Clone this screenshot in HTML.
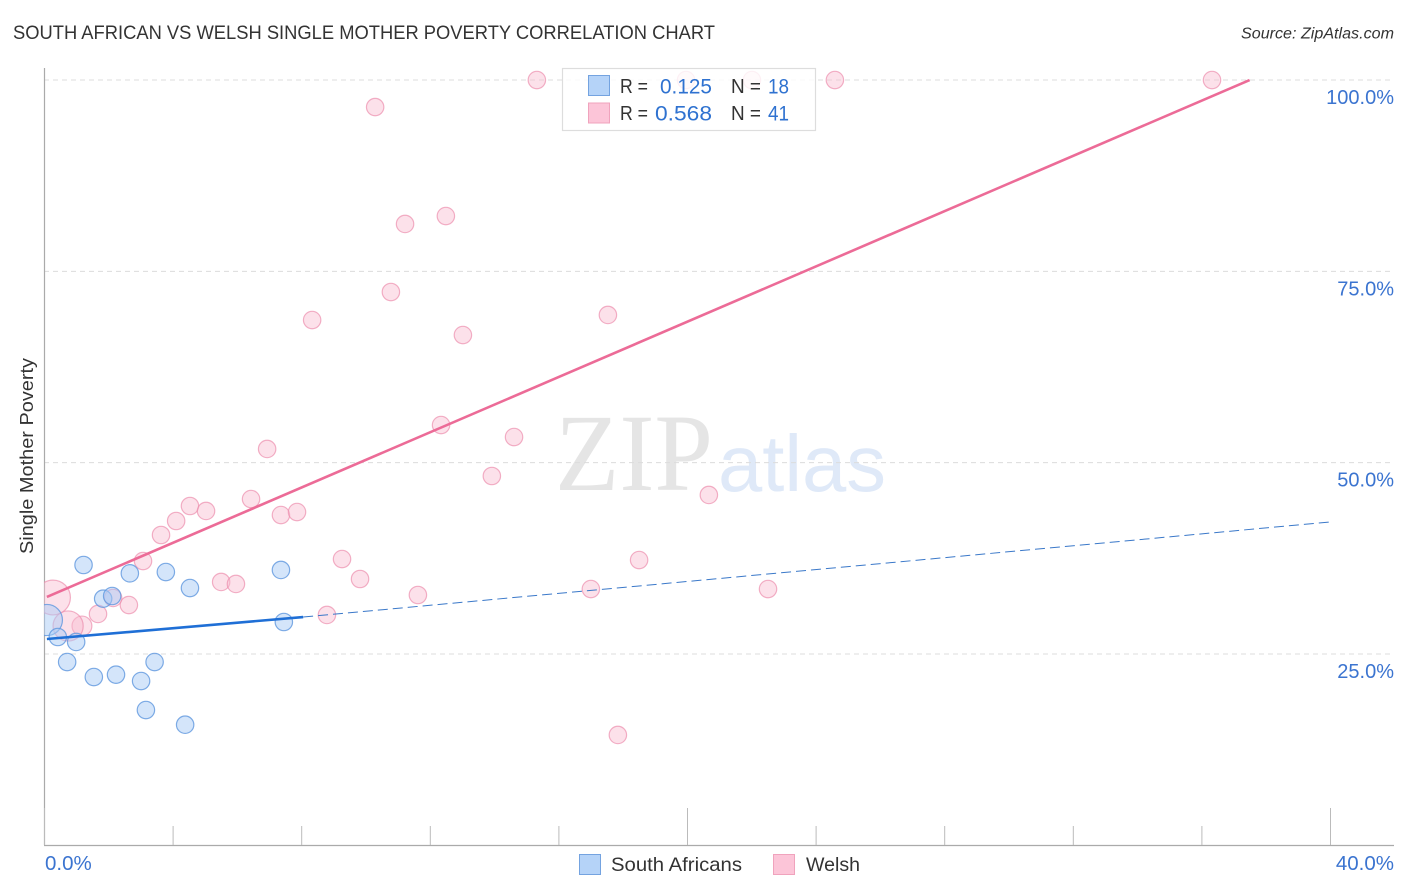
<!DOCTYPE html>
<html>
<head>
<meta charset="utf-8">
<title>South African vs Welsh Single Mother Poverty Correlation Chart</title>
<style>
html,body{margin:0;padding:0;background:#fff;}
svg{display:block;font-family:"Liberation Sans",sans-serif;}
</style>
</head>
<body>
<svg id="chart" width="1406" height="892" viewBox="0 0 1406 892" xmlns="http://www.w3.org/2000/svg">
  <defs><clipPath id="plot-clip"><rect x="44" y="60" width="1352" height="785"/></clipPath></defs>
  <rect width="1406" height="892" fill="#fff"/>
  <text x="13" y="39" font-size="19" fill="#333" textLength="702" lengthAdjust="spacingAndGlyphs">SOUTH AFRICAN VS WELSH SINGLE MOTHER POVERTY CORRELATION CHART</text>
  <text x="1241" y="38.5" font-size="15.5" font-style="italic" fill="#333" textLength="153" lengthAdjust="spacingAndGlyphs">Source: ZipAtlas.com</text>
  <g>
    <text x="555" y="490" font-family="'Liberation Serif',serif" font-size="110" fill="#e5e5e5" textLength="158" lengthAdjust="spacingAndGlyphs">ZIP</text>
    <text x="718" y="491" font-size="80" fill="#dfe9f8" textLength="168" lengthAdjust="spacingAndGlyphs">atlas</text>
  </g>
  <g id="grid"></g>
  <g id="axes">
    <line x1="44.5" y1="68" x2="44.5" y2="845" stroke="#aaa" stroke-width="1.2"/>
    <line x1="44" y1="845.5" x2="1394" y2="845.5" stroke="#aaa" stroke-width="1.2"/>
  </g>
  <g id="xticks"></g>
  <g id="ylabels"></g>
  <g id="xlabels"></g>
  <text transform="translate(33,456) rotate(-90)" text-anchor="middle" font-size="18.5" fill="#333" textLength="196" lengthAdjust="spacingAndGlyphs">Single Mother Poverty</text>
  <g id="marks" clip-path="url(#plot-clip)"></g>
  <g>
    <rect x="562.5" y="68.5" width="253" height="62" fill="#fff" fill-opacity="0.82" stroke="#ddd" stroke-width="1.2"/>
    <rect x="588.5" y="75.5" width="21" height="20" fill="#b5d3f8" stroke="#74a3e0"/>
    <rect x="588.5" y="103" width="21" height="20" fill="#fcc5d8" stroke="#f0a3bd"/>
    <g font-size="20" fill="#333">
      <text x="620" y="93" textLength="28" lengthAdjust="spacingAndGlyphs">R =</text>
      <text x="731" y="93" textLength="30" lengthAdjust="spacingAndGlyphs">N =</text>
      <text x="620" y="120" textLength="28" lengthAdjust="spacingAndGlyphs">R =</text>
      <text x="731" y="120" textLength="30" lengthAdjust="spacingAndGlyphs">N =</text>
    </g>
    <g font-size="21" fill="#2f72d0">
      <text x="660" y="93.5" textLength="52" lengthAdjust="spacingAndGlyphs">0.125</text>
      <text x="768" y="93.5" textLength="21" lengthAdjust="spacingAndGlyphs">18</text>
      <text x="655" y="120.5" textLength="57" lengthAdjust="spacingAndGlyphs">0.568</text>
      <text x="768" y="120.5" textLength="21" lengthAdjust="spacingAndGlyphs">41</text>
    </g>
  </g>
  <g>
    <rect x="579.5" y="854.5" width="21" height="20" fill="#b5d3f8" stroke="#74a3e0"/>
    <text x="611" y="871" font-size="19.5" fill="#333" textLength="131" lengthAdjust="spacingAndGlyphs">South Africans</text>
    <rect x="773.5" y="854.5" width="21" height="20" fill="#fcc5d8" stroke="#f0a3bd"/>
    <text x="806" y="871" font-size="19.5" fill="#333" textLength="54" lengthAdjust="spacingAndGlyphs">Welsh</text>
  </g>
</svg>
<script>
const yTickValues = [25, 50, 75, 100];
const yTickLabels = ["25.0%", "50.0%", "75.0%", "100.0%"];
const xTickValues = [0, 4, 8, 12, 16, 20, 24, 28, 32, 36, 40];
const xMajorTicks = [0, 20, 40];
const xEndValues = [0, 40];
const xEndLabels = ["0.0%", "40.0%"];

const southAfricanX = [0.09, 0.43, 0.72, 1.0, 1.23, 1.55, 1.84, 2.12, 2.24, 2.67, 3.02, 3.17, 3.44, 3.79, 4.39, 4.54, 7.37, 7.46];
const southAfricanY = [29.44, 27.22, 23.95, 26.57, 36.63, 21.99, 32.23, 32.58, 22.3, 35.54, 21.47, 17.68, 23.95, 35.71, 15.76, 33.62, 35.98, 29.18];
const southAfricanWeight = [3.2, 1, 1, 1, 1, 1, 1, 1, 1, 1, 1, 1, 1, 1, 1, 1, 1, 1];

const welshX = [15.33, 19.97, 22.02, 24.6, 36.33, 10.3, 11.23, 12.5, 10.79, 8.34, 13.03, 17.54, 12.35, 14.62, 6.94, 13.93, 20.68, 6.44, 4.54, 5.04, 4.11, 7.37, 7.87, 3.64, 3.08, 9.27, 18.51, 5.51, 5.97, 9.83, 11.63, 17.01, 22.52, 2.64, 2.15, 1.68, 1.18, 0.75, 0.28, 8.8, 17.85];
const welshY = [100, 100, 100, 100, 100, 96.47, 81.19, 82.23, 72.3, 68.64, 66.68, 69.3, 54.92, 53.35, 51.79, 48.26, 45.78, 45.25, 44.34, 43.69, 42.38, 43.16, 43.55, 40.55, 37.15, 37.41, 37.28, 34.41, 34.15, 34.8, 32.71, 33.49, 33.49, 31.4, 32.32, 30.23, 28.66, 28.66, 32.38, 30.1, 14.42];
const welshWeight = [1, 1, 1, 1, 1, 1, 1, 1, 1, 1, 1, 1, 1, 1, 1, 1, 1, 1, 1, 1, 1, 1, 1, 1, 1, 1, 1, 1, 1, 1, 1, 1, 1, 1, 1, 1, 1.3, 3, 4, 1, 1];

const welshTrendX = [0.09, 37.5];
const welshTrendY = [32.45, 100];
const southAfricanTrendX = [0.09, 8.06];
const southAfricanTrendY = [26.96, 29.83];
const southAfricanForecastX = [8.06, 40];
const southAfricanForecastY = [29.83, 42.25];

const SVGNS = "http://www.w3.org/2000/svg";
function xScale(v) { return 44 + v * 32.15; }
function yScale(v) { return 654 - (v - 25) * 7.653; }
function rScale(w) { return 8.7 * Math.sqrt(w); }
function make(tag, parent, attrs) {
  const el = document.createElementNS(SVGNS, tag);
  for (const k in attrs) el.setAttribute(k, attrs[k]);
  parent.appendChild(el);
  return el;
}

const grid = document.getElementById("grid");
const ylabels = document.getElementById("ylabels");
yTickValues.forEach(function (v, i) {
  const line = make("line", grid, { x1: 44, x2: 1394, y1: yScale(v), y2: yScale(v), stroke: "#dcdcdc", "stroke-width": 1, "stroke-dasharray": "5 4" });
  
  
  const label = make("text", ylabels, { x: 1394, y: yScale(v) + 24, "text-anchor": "end", "font-size": 20, fill: "#3b74d0" });
  label.textContent = yTickLabels[i];
  
  
});

const xticks = document.getElementById("xticks");
xTickValues.forEach(function (v) {
  const top = xMajorTicks.indexOf(v) >= 0 ? 808 : 826;
  const tick = make("line", xticks, { x1: xScale(v) + 0.5, x2: xScale(v) + 0.5, y1: top, y2: 845, stroke: "#bbb", "stroke-width": 1 });
  
  
});

const xlabels = document.getElementById("xlabels");
xEndValues.forEach(function (v, i) {
  const attrs = i === 0
    ? { x: xScale(v) + 1, "text-anchor": "start" }
    : { x: 1394, "text-anchor": "end" };
  attrs.y = 870;
  attrs["font-size"] = 20.5;
  attrs.fill = "#3b74d0";
  const label = make("text", xlabels, attrs);
  label.textContent = xEndLabels[i];
  
  
});

const marks = document.getElementById("marks");

welshX.forEach(function (x, i) {
  const c = make("circle", marks, { cx: xScale(x), cy: yScale(welshY[i]), r: rScale(welshWeight[i]), fill: "#f9bdd0", "fill-opacity": 0.45, stroke: "#ec8fae", "stroke-opacity": 0.7, "stroke-width": 1.2 });
  
  
});

southAfricanX.forEach(function (x, i) {
  const c = make("circle", marks, { cx: xScale(x), cy: yScale(southAfricanY[i]), r: rScale(southAfricanWeight[i]), fill: "#a9cbf5", "fill-opacity": 0.5, stroke: "#5f97de", "stroke-opacity": 0.8, "stroke-width": 1.2 });
  
  
});

const forecast = make("line", marks, { x1: xScale(southAfricanForecastX[0]), y1: yScale(southAfricanForecastY[0]), x2: xScale(southAfricanForecastX[1]), y2: yScale(southAfricanForecastY[1]), stroke: "#3a78c9", "stroke-width": 1, "stroke-dasharray": "10 5" });



const blueTrend = make("line", marks, { x1: xScale(southAfricanTrendX[0]), y1: yScale(southAfricanTrendY[0]), x2: xScale(southAfricanTrendX[1]), y2: yScale(southAfricanTrendY[1]), stroke: "#1f6fd6", "stroke-width": 2.6 });



const pinkTrend = make("line", marks, { x1: xScale(welshTrendX[0]), y1: yScale(welshTrendY[0]), x2: xScale(welshTrendX[1]), y2: yScale(welshTrendY[1]), stroke: "#ec6b97", "stroke-width": 2.6 });


</script>
</body>
</html>
